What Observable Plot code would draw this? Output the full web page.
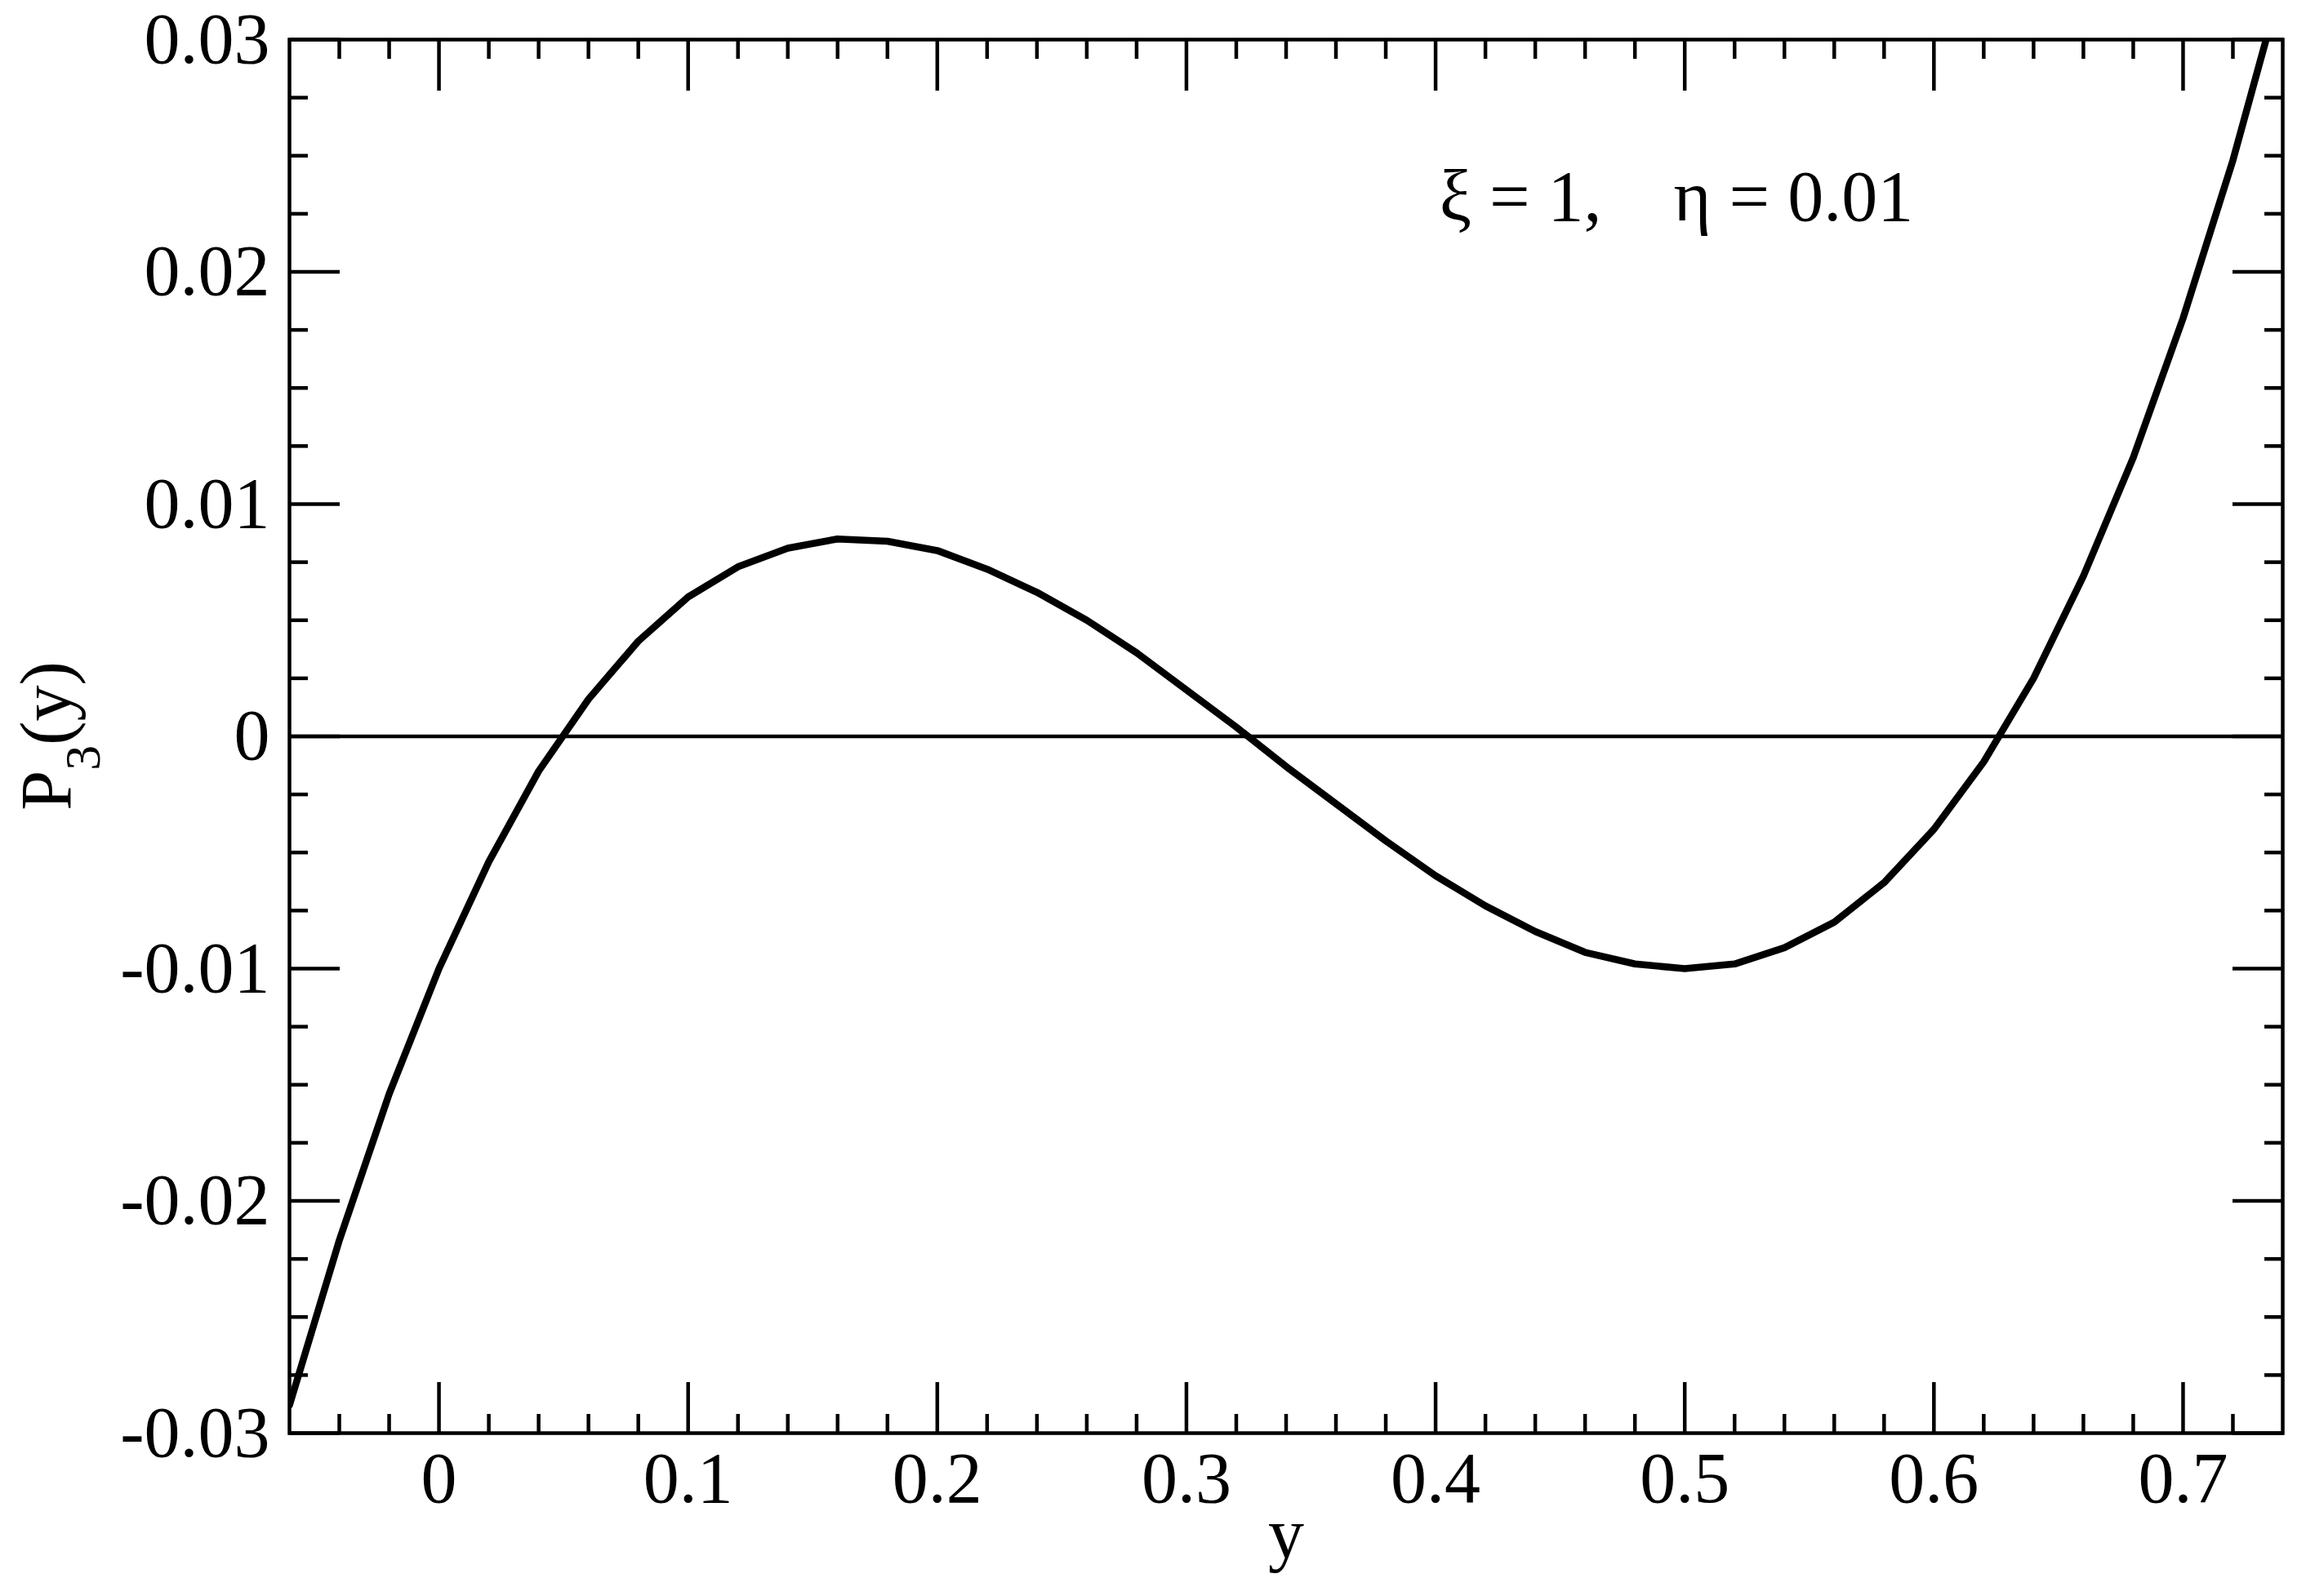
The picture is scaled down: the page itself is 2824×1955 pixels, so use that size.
<!DOCTYPE html>
<html>
<head>
<meta charset="utf-8">
<script src="https://cdn.jsdelivr.net/npm/d3@7"></script>
<script src="https://cdn.jsdelivr.net/npm/@observablehq/plot@0.6"></script>
<style>
  html, body { margin: 0; padding: 0; background: #fff; }
  #chart svg { display: block; }
</style>
</head>
<body>
<div id="chart"></div>
<script>
// ---- data ----
const yValues = [-0.06, -0.04, -0.02, 0.00, 0.02, 0.04, 0.06, 0.08, 0.10, 0.12,
                 0.14, 0.16, 0.18, 0.20, 0.22, 0.24, 0.26, 0.28, 0.30, 0.32,
                 0.34, 0.36, 0.38, 0.40, 0.42, 0.44, 0.46, 0.48, 0.50, 0.52,
                 0.54, 0.56, 0.58, 0.60, 0.62, 0.64, 0.66, 0.68, 0.70, 0.72, 0.74];
const p3Values = [-0.0288, -0.0217, -0.0154, -0.0100, -0.0054, -0.0015, 0.0016, 0.0041, 0.0060, 0.0073,
                  0.0081, 0.0085, 0.0084, 0.0080, 0.0072, 0.0062, 0.0050, 0.0036, 0.0020, 0.0004,
                  -0.0013, -0.0029, -0.0045, -0.0060, -0.0073, -0.0084, -0.0093, -0.0098, -0.0100, -0.0098,
                  -0.0091, -0.0080, -0.0063, -0.0040, -0.0011, 0.0025, 0.0069, 0.0120, 0.0180, 0.0248, 0.0326];

const xDomain = [-0.06, 0.74];
const yDomain = [-0.03, 0.03];
const xMajorTicks = [0, 0.1, 0.2, 0.3, 0.4, 0.5, 0.6, 0.7];
const xMajorLabels = ["0", "0.1", "0.2", "0.3", "0.4", "0.5", "0.6", "0.7"];
const xMinorTicks = [-0.04, -0.02, 0.02, 0.04, 0.06, 0.08, 0.12, 0.14, 0.16, 0.18,
                     0.22, 0.24, 0.26, 0.28, 0.32, 0.34, 0.36, 0.38, 0.42, 0.44, 0.46, 0.48,
                     0.52, 0.54, 0.56, 0.58, 0.62, 0.64, 0.66, 0.68, 0.72];
const yMajorTicks = [-0.03, -0.02, -0.01, 0, 0.01, 0.02, 0.03];
const yMajorLabels = ["-0.03", "-0.02", "-0.01", "0", "0.01", "0.02", "0.03"];
const yMinorTicks = [-0.0275, -0.025, -0.0225, -0.0175, -0.015, -0.0125, -0.0075, -0.005, -0.0025,
                     0.0025, 0.005, 0.0075, 0.0125, 0.015, 0.0175, 0.0225, 0.025, 0.0275];
const annotationText = "ξ = 1,\u00a0\u00a0\u00a0\u00a0η = 0.01";
const annotationPos = {x: 0.4015, y: 0.0232};
const xLabel = "y";

const data = yValues.map((v, i) => ({y: v, p: p3Values[i]}));

const FONT = "'Liberation Serif', 'Times New Roman', serif";
const FS = 88;
const W = 2824, H = 1955;
const ML = 354, MR = 29, MT = 48, MB = 200;
const MAJ = 62, MIN = 23, SW = 4.5;

const fmtX = d => xMajorLabels[xMajorTicks.indexOf(d)] ?? "";
const fmtY = d => yMajorLabels[yMajorTicks.indexOf(d)] ?? "";
const none = () => "";

const plot = Plot.plot({
  width: W,
  height: H,
  marginLeft: ML,
  marginRight: MR,
  marginTop: MT,
  marginBottom: MB,
  style: {fontFamily: FONT, fontSize: FS + "px", color: "#000", background: "#fff", overflow: "visible"},
  x: {domain: xDomain},
  y: {domain: yDomain},
  marks: [
    Plot.ruleY([0], {stroke: "#000", strokeWidth: 4.5}),
    Plot.line(data, {x: "y", y: "p", stroke: "#000", strokeWidth: 8.6, strokeLinejoin: "round", clip: true}),
    // inward ticks on all four sides
    Plot.axisX(xMajorTicks, {anchor: "bottom", tickSize: -MAJ, strokeWidth: SW, tickFormat: none, label: null}),
    Plot.axisX(xMinorTicks, {anchor: "bottom", tickSize: -MIN, strokeWidth: SW, tickFormat: none, label: null}),
    Plot.axisX(xMajorTicks, {anchor: "top", tickSize: -MAJ, strokeWidth: SW, tickFormat: none, label: null}),
    Plot.axisX(xMinorTicks, {anchor: "top", tickSize: -MIN, strokeWidth: SW, tickFormat: none, label: null}),
    Plot.axisY(yMajorTicks, {anchor: "left", tickSize: -MAJ, strokeWidth: SW, tickFormat: none, label: null}),
    Plot.axisY(yMinorTicks, {anchor: "left", tickSize: -MIN, strokeWidth: SW, tickFormat: none, label: null}),
    Plot.axisY(yMajorTicks, {anchor: "right", tickSize: -MAJ, strokeWidth: SW, tickFormat: none, label: null}),
    Plot.axisY(yMinorTicks, {anchor: "right", tickSize: -MIN, strokeWidth: SW, tickFormat: none, label: null}),
    // tick labels
    Plot.axisX(xMajorTicks, {anchor: "bottom", tickSize: 0, tickPadding: 22, tickFormat: fmtX, label: null, fontSize: FS}),
    Plot.axisY(yMajorTicks, {anchor: "left", tickSize: 0, tickPadding: 24, tickFormat: fmtY, label: null, fontSize: FS}),
    Plot.frame({stroke: "#000", strokeWidth: SW}),
    Plot.text([annotationText], {x: annotationPos.x, y: annotationPos.y, text: d => d, textAnchor: "start", lineAnchor: "middle", fontSize: FS, fill: "#000"}),
    Plot.text([xLabel], {frameAnchor: "bottom", text: d => d, lineAnchor: "middle", dy: 124, fontSize: FS, fill: "#000"})
  ]
});

// y-axis title with subscript: P₃(y)
const svg = d3.select(plot);
const yTitle = svg.append("text")
  .attr("transform", `translate(86, ${(MT + (H - MB)) / 2}) rotate(-90)`)
  .attr("text-anchor", "middle")
  .attr("font-family", FONT)
  .attr("font-size", FS)
  .attr("fill", "#000");
yTitle.append("tspan").text("P");
yTitle.append("tspan").attr("font-size", 62).attr("dy", 36).text("3");
yTitle.append("tspan").attr("font-size", FS).attr("dy", -36).text("(y)");

document.getElementById("chart").appendChild(plot);
</script>
</body>
</html>
